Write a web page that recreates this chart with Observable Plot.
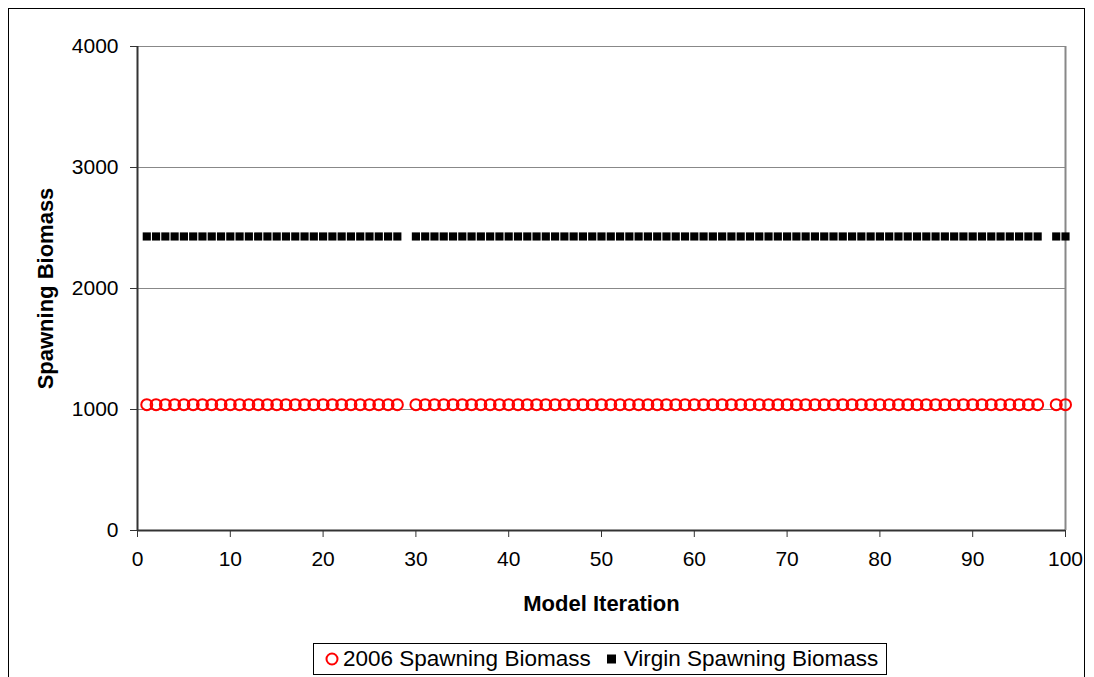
<!DOCTYPE html>
<html>
<head>
<meta charset="utf-8">
<script src="https://cdn.jsdelivr.net/npm/d3@7"></script>
<script src="https://cdn.jsdelivr.net/npm/@observablehq/plot@0.6"></script>
<style>
  html, body { margin: 0; padding: 0; background: #fff; overflow: hidden; }
  body { width: 1094px; height: 677px; position: relative; font-family: "Liberation Sans", Arial, sans-serif; }
  #frame { position: absolute; left: 8px; top: 8px; width: 1077px; height: 700px; border: 1.5px solid #000; box-sizing: border-box; pointer-events: none; }
  #chart { position: absolute; left: 0; top: 0; }
  #legend { position: absolute; left: 313px; top: 643px; width: 574px; height: 32px; border: 1.5px solid #000; box-sizing: border-box; display: flex; align-items: center; justify-content: flex-start; padding-left: 10px; font-size: 22.5px; color: #000; background: #fff; white-space: nowrap; }
  .item { display: flex; align-items: center; }
</style>
</head>
<body>
<div id="chart"></div>
<div id="frame"></div>
<div id="legend">
  <span class="item"><svg width="16" height="16"><circle cx="8" cy="8" r="5.5" fill="none" stroke="#ff0000" stroke-width="2"/></svg><span style="margin-left:3px">2006 Spawning Biomass</span></span>
  <span class="item" style="margin-left:16px"><svg width="10" height="16"><rect x="0" y="3.5" width="9" height="9" fill="#000"/></svg><span style="margin-left:7px">Virgin Spawning Biomass</span></span>
</div>
<script>
const iterations = [1,2,3,4,5,6,7,8,9,10,11,12,13,14,15,16,17,18,19,20,21,22,23,24,25,26,27,28,
  30,31,32,33,34,35,36,37,38,39,40,41,42,43,44,45,46,47,48,49,50,51,52,53,54,55,56,57,58,59,60,
  61,62,63,64,65,66,67,68,69,70,71,72,73,74,75,76,77,78,79,80,81,82,83,84,85,86,87,88,89,90,
  91,92,93,94,95,96,97,99,100];
const biomass2006 = [1040,1040,1040,1040,1040,1040,1040,1040,1040,1040,1040,1040,1040,1040,1040,1040,1040,1040,1040,1040,1040,1040,1040,1040,1040,1040,1040,1040,
  1040,1040,1040,1040,1040,1040,1040,1040,1040,1040,1040,1040,1040,1040,1040,1040,1040,1040,1040,1040,1040,1040,1040,1040,1040,1040,1040,1040,1040,1040,1040,
  1040,1040,1040,1040,1040,1040,1040,1040,1040,1040,1040,1040,1040,1040,1040,1040,1040,1040,1040,1040,1040,1040,1040,1040,1040,1040,1040,1040,1040,1040,
  1040,1040,1040,1040,1040,1040,1040,1040,1040];
const virginBiomass = [2430,2430,2430,2430,2430,2430,2430,2430,2430,2430,2430,2430,2430,2430,2430,2430,2430,2430,2430,2430,2430,2430,2430,2430,2430,2430,2430,2430,
  2430,2430,2430,2430,2430,2430,2430,2430,2430,2430,2430,2430,2430,2430,2430,2430,2430,2430,2430,2430,2430,2430,2430,2430,2430,2430,2430,2430,2430,2430,2430,
  2430,2430,2430,2430,2430,2430,2430,2430,2430,2430,2430,2430,2430,2430,2430,2430,2430,2430,2430,2430,2430,2430,2430,2430,2430,2430,2430,2430,2430,2430,
  2430,2430,2430,2430,2430,2430,2430,2430,2430];
const xTicks = [0,10,20,30,40,50,60,70,80,90,100];
const yTicks = [0,1000,2000,3000,4000];
const gridValues = [1000,2000,3000,4000];

const d2006 = iterations.map((it, i) => ({x: it, y: biomass2006[i]}));
const dVirgin = iterations.map((it, i) => ({x: it, y: virginBiomass[i]}));

const chart = Plot.plot({
  width: 1094,
  height: 640,
  marginLeft: 137,
  marginRight: 29,
  marginTop: 46,
  marginBottom: 110,
  style: {fontFamily: "'Liberation Sans', Arial, sans-serif", fontSize: "21px", color: "#000", background: "transparent"},
  x: {domain: [0, 100]},
  y: {domain: [0, 4000]},
  marks: [
    Plot.ruleY(gridValues, {stroke: "#888", strokeWidth: 1.2}),
    Plot.ruleX([100], {stroke: "#888", strokeWidth: 2}),
    Plot.ruleX([0], {stroke: "#333", strokeWidth: 2}),
    Plot.ruleY([0], {stroke: "#333", strokeWidth: 2}),
    Plot.axisX({ticks: xTicks, tickSize: 7, tickPadding: 14, tickFormat: d => String(d), label: null, fontSize: 21, stroke: "#333", fill: "#000"}),
    Plot.axisY({ticks: yTicks, tickSize: 7, tickPadding: 12, tickFormat: d => String(d), label: null, fontSize: 21, stroke: "#333", fill: "#000"}),
    Plot.dot(d2006, {x: "x", y: "y", r: 5.5, stroke: "#ff0000", strokeWidth: 2, fill: "none"}),
    Plot.dot(dVirgin, {x: "x", y: "y", symbol: "square", r: 4.6, fill: "#000", stroke: "none"}),
    Plot.text(["Model Iteration"], {frameAnchor: "bottom", dy: 65, fontWeight: "bold", fontSize: 22, fill: "#000", lineAnchor: "top"}),
    Plot.text(["Spawning Biomass"], {frameAnchor: "left", dx: -92, rotate: -90, textAnchor: "middle", fontWeight: "bold", fontSize: 22, fill: "#000"})
  ]
});
document.getElementById("chart").appendChild(chart);
</script>
</body>
</html>
